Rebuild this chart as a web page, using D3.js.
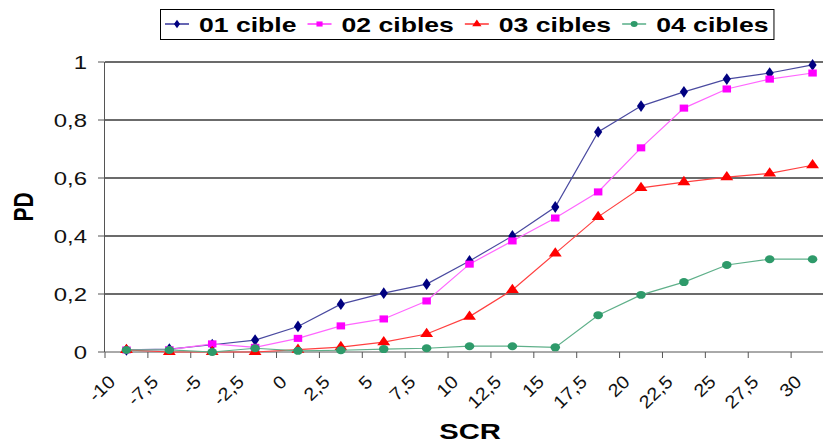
<!DOCTYPE html>
<html>
<head>
<meta charset="utf-8">
<script src="https://cdn.jsdelivr.net/npm/d3@7"></script>
<style>
  html, body { margin: 0; padding: 0; background: #fff; }
  svg { display: block; font-family: "Liberation Sans", Arial, sans-serif; }
</style>
</head>
<body>
<svg width="823" height="445"></svg>
<script>
// Data
const categories = ["-10", "-7,5", "-5", "-2,5", "0", "2,5", "5", "7,5", "10", "12,5", "15", "17,5", "20", "22,5", "25", "27,5", "30"];
const cible01 = [0.007, 0.01, 0.025, 0.041, 0.088, 0.165, 0.203, 0.234, 0.314, 0.4, 0.5, 0.759, 0.848, 0.897, 0.941, 0.962, 0.99];
const cibles02 = [0.007, 0.008, 0.028, 0.016, 0.047, 0.09, 0.114, 0.176, 0.303, 0.383, 0.462, 0.552, 0.704, 0.841, 0.907, 0.941, 0.962];
const cibles03 = [0.007, 0, 0, 0, 0.008, 0.017, 0.034, 0.062, 0.122, 0.214, 0.34, 0.466, 0.566, 0.586, 0.603, 0.616, 0.644];
const cibles04 = [0.007, 0.007, 0, 0.013, 0.004, 0.006, 0.01, 0.013, 0.02, 0.02, 0.016, 0.127, 0.197, 0.241, 0.3, 0.32, 0.32];
const seriesNames = ["01 cible", "02 cibles", "03 cibles", "04 cibles"];
const yTicks = [0, 0.2, 0.4, 0.6, 0.8, 1];
const yTickLabels = ["0", "0,2", "0,4", "0,6", "0,8", "1"];

const width = 823, height = 445;
const stretch = 1.33; // the original picture is widened, text looks wide

const series = [
  { name: seriesNames[0], values: cible01, color: "#000080", line: "#4a4aa0", symbol: d3.symbolDiamond },
  { name: seriesNames[1], values: cibles02, color: "#ff00ff", line: "#ff66ff", symbol: d3.symbolSquare },
  { name: seriesNames[2], values: cibles03, color: "#ff0000", line: "#ff4040", symbol: d3.symbolTriangle },
  { name: seriesNames[3], values: cibles04, color: "#2e9a6a", line: "#5fb08a", symbol: d3.symbolCircle }
];

const svg = d3.select("svg");

// scales: the category axis runs past the right border, as in the picture
const x = d3.scaleBand().domain(categories).range([105, 834]);
const y = d3.scaleLinear().domain([0, 1]).range([352, 62]);

// gridlines
svg.append("g")
  .selectAll("line")
  .data(yTicks.filter(d => d > 0))
  .join("line")
  .attr("x1", x.range()[0]).attr("x2", width)
  .attr("y1", d => y(d)).attr("y2", d => y(d))
  .attr("stroke", "#3a3a3a")
  .attr("stroke-width", 1.3);

// y axis
const yAxis = svg.append("g");
yAxis.append("line")
  .attr("x1", 104.5).attr("x2", 104.5)
  .attr("y1", y(1)).attr("y2", y(0))
  .attr("stroke", "#555");
yAxis.selectAll(".tick")
  .data(yTicks)
  .join("line")
  .attr("x1", 98).attr("x2", 104.5)
  .attr("y1", d => y(d)).attr("y2", d => y(d))
  .attr("stroke", "#555");
yAxis.selectAll("text")
  .data(yTicks)
  .join("text")
  .attr("transform", d => `translate(87,${y(d) + 6.5}) scale(${stretch},1)`)
  .attr("text-anchor", "end")
  .attr("font-size", 18)
  .attr("fill", "#111")
  .text((d, i) => yTickLabels[i]);

// x axis
const xAxis = svg.append("g");
xAxis.append("line")
  .attr("x1", x.range()[0]).attr("x2", width)
  .attr("y1", y(0)).attr("y2", y(0))
  .attr("stroke", "#555");
xAxis.selectAll("line.tk")
  .data(d3.range(categories.length + 1))
  .join("line")
  .attr("class", "tk")
  .attr("x1", i => x.range()[0] + i * x.step())
  .attr("x2", i => x.range()[0] + i * x.step())
  .attr("y1", y(0)).attr("y2", y(0) + 6)
  .attr("stroke", "#555");
xAxis.selectAll("text")
  .data(categories)
  .join("text")
  .attr("transform", d => `translate(${x(d) + x.bandwidth() / 2 - 10},${383}) rotate(-44) scale(1.1,1)`)
  .attr("text-anchor", "end")
  .attr("font-size", 18)
  .attr("fill", "#111")
  .text(d => d);

// axis titles
svg.append("text")
  .attr("transform", `translate(470,439) scale(${stretch},1)`)
  .attr("text-anchor", "middle")
  .attr("font-size", 22)
  .attr("font-weight", "bold")
  .text("SCR");

svg.append("text")
  .attr("transform", `translate(33,207) scale(1.3,1) rotate(-90)`)
  .attr("text-anchor", "middle")
  .attr("font-size", 21)
  .attr("font-weight", "bold")
  .text("PD");

// series lines and markers
const line = d3.line()
  .x((d, i) => x(categories[i]) + x.bandwidth() / 2)
  .y(d => y(d));

series.forEach(s => {
  const g = svg.append("g");
  g.append("path")
    .attr("d", line(s.values))
    .attr("fill", "none")
    .attr("stroke", s.line)
    .attr("stroke-width", 1.2);
  g.selectAll("path.m")
    .data(s.values)
    .join("path")
    .attr("class", "m")
    .attr("transform", (d, i) => `translate(${x(categories[i]) + x.bandwidth() / 2},${y(d)}) scale(1.2,1)`)
    .attr("d", d3.symbol().type(s.symbol).size(s.symbol === d3.symbolDiamond ? 40 : 50))
    .attr("fill", s.color);
});

// legend
const legend = svg.append("g");
const box = legend.append("rect")
  .attr("x", 160.5).attr("y", 9.5)
  .attr("height", 30)
  .attr("fill", "#fff")
  .attr("stroke", "#000");

let cx = 165;
series.forEach(s => {
  const item = legend.append("g");
  item.append("line")
    .attr("x1", cx).attr("x2", cx + 24)
    .attr("y1", 24).attr("y2", 24)
    .attr("stroke", s.color)
    .attr("stroke-width", 1.2);
  item.append("path")
    .attr("transform", `translate(${cx + 12},24) scale(1.2,1)`)
    .attr("d", d3.symbol().type(s.symbol).size(s.symbol === d3.symbolDiamond ? 22 : 26))
    .attr("fill", s.color);
  const t = item.append("text")
    .attr("transform", `translate(${cx + 34},32) scale(${stretch},1)`)
    .attr("font-size", 20)
    .attr("font-weight", "bold")
    .text(s.name);
  cx += 34 + t.node().getComputedTextLength() * stretch + 11;
});
box.attr("width", cx - 160 - 6);
</script>
</body>
</html>
